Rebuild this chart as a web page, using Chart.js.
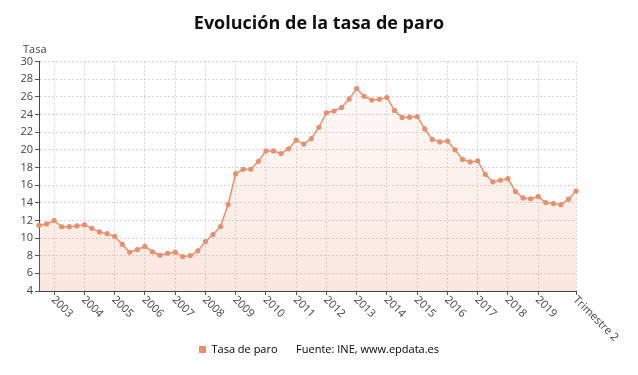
<!DOCTYPE html>
<html>
<head>
<meta charset="utf-8">
<script src="https://cdn.jsdelivr.net/npm/chart.js@4/dist/chart.umd.min.js"></script>
<style>
    html, body { margin: 0; padding: 0; background: #fff; }
    #grafico { width: 638px; height: 375px; }
</style>
</head>
<body>
<div id="grafico">
    <canvas id="myChart"></canvas>
</div>
<script>
    // trimestres (EPA), del T3 2002 al T2 2020
    var categorias = [
        'T3 2002', 'T4 2002',
        'T1 2003', 'T2 2003', 'T3 2003', 'T4 2003',
        'T1 2004', 'T2 2004', 'T3 2004', 'T4 2004',
        'T1 2005', 'T2 2005', 'T3 2005', 'T4 2005',
        'T1 2006', 'T2 2006', 'T3 2006', 'T4 2006',
        'T1 2007', 'T2 2007', 'T3 2007', 'T4 2007',
        'T1 2008', 'T2 2008', 'T3 2008', 'T4 2008',
        'T1 2009', 'T2 2009', 'T3 2009', 'T4 2009',
        'T1 2010', 'T2 2010', 'T3 2010', 'T4 2010',
        'T1 2011', 'T2 2011', 'T3 2011', 'T4 2011',
        'T1 2012', 'T2 2012', 'T3 2012', 'T4 2012',
        'T1 2013', 'T2 2013', 'T3 2013', 'T4 2013',
        'T1 2014', 'T2 2014', 'T3 2014', 'T4 2014',
        'T1 2015', 'T2 2015', 'T3 2015', 'T4 2015',
        'T1 2016', 'T2 2016', 'T3 2016', 'T4 2016',
        'T1 2017', 'T2 2017', 'T3 2017', 'T4 2017',
        'T1 2018', 'T2 2018', 'T3 2018', 'T4 2018',
        'T1 2019', 'T2 2019', 'T3 2019', 'T4 2019',
        'T1 2020', 'T2 2020'
    ];

    var tasaParo = [
        11.45, 11.6,
        11.99, 11.28, 11.29, 11.37,
        11.5, 11.1, 10.7, 10.5,
        10.19, 9.31, 8.39, 8.7,
        9.05, 8.45, 8.05, 8.28,
        8.4, 7.9, 8.01, 8.55,
        9.6, 10.4, 11.3, 13.8,
        17.3, 17.8, 17.8, 18.7,
        19.88, 19.88, 19.58, 20.11,
        21.1, 20.65, 21.26, 22.56,
        24.2, 24.4, 24.8, 25.77,
        26.94, 26.07, 25.65, 25.73,
        25.93, 24.47, 23.67, 23.7,
        23.78, 22.37, 21.18, 20.9,
        21.0, 20.0, 18.91, 18.63,
        18.75, 17.22, 16.38, 16.55,
        16.74, 15.28, 14.55, 14.45,
        14.7, 14.02, 13.92, 13.78,
        14.41, 15.33
    ];

    var ultimaEtiqueta = 'Trimestre 2';
    var titulo = 'Evolución de la tasa de paro';
    var tituloEje = 'Tasa';
    var nombreSerie = 'Tasa de paro';
    var fuente = 'Fuente: INE, www.epdata.es';

    var fuenteLetra = '"Open Sans", "Noto Sans", sans-serif';
    var colorSerie = '#e8906c';
    var colorTexto = '#444';
    var colorRejilla = '#d4d4d4';

    // solo se rotula el primer trimestre de cada año y el último dato
    // (el año del último dato no se rotula, queda pegado a "Trimestre 2")
    function etiqueta(i) {
        var ultimo = categorias.length - 1;
        if (i === ultimo) return ultimaEtiqueta;
        if (i > ultimo - 4) return null;
        var c = categorias[i];
        if (c && c.indexOf('T1') === 0) return c.slice(3);
        return null;
    }

    // etiquetas del eje X inclinadas hacia abajo a la derecha
    var etiquetasX = {
        id: 'etiquetasX',
        afterDraw: function (chart) {
            var x = chart.scales.x;
            var ctx = chart.ctx;
            ctx.save();
            ctx.font = '11px ' + fuenteLetra;
            ctx.fillStyle = colorTexto;
            ctx.textAlign = 'left';
            ctx.textBaseline = 'middle';
            for (var i = 0; i < x.ticks.length; i++) {
                var lab = etiqueta(i);
                if (!lab) continue;
                var px = x.getPixelForTick(i);
                ctx.save();
                ctx.translate(px - 1, x.top + 7);
                ctx.rotate(Math.PI / 4);
                ctx.fillText(lab, 0, 0);
                ctx.restore();
            }
            // titulo del eje Y encima del eje
            var area = chart.chartArea;
            ctx.textAlign = 'left';
            ctx.fillText(tituloEje, area.left - 16, area.top - 11.5);
            ctx.restore();
        }
    };

    var ctx = document.getElementById('myChart').getContext('2d');
    var chart = new Chart(ctx, {
        type: 'line',
        data: {
            labels: categorias,
            datasets: [{
                label: nombreSerie,
                data: tasaParo,
                yAxisID: 'y',
                borderColor: colorSerie,
                borderWidth: 1.5,
                pointRadius: 2.6,
                pointBorderWidth: 0,
                pointBackgroundColor: colorSerie,
                tension: 0,
                fill: 'start',
                backgroundColor: function (c) {
                    var area = c.chart.chartArea;
                    if (!area) return 'rgba(232, 144, 108, 0.12)';
                    var g = c.chart.ctx.createLinearGradient(0, area.top, 0, area.bottom);
                    g.addColorStop(0, 'rgba(232, 144, 108, 0.03)');
                    g.addColorStop(1, 'rgba(232, 144, 108, 0.22)');
                    return g;
                }
            }]
        },
        options: {
            responsive: true,
            maintainAspectRatio: false,
            animation: false,
            layout: { padding: { left: 0, right: 0, top: 0, bottom: 10 } },
            plugins: {
                title: {
                    display: true,
                    text: titulo,
                    color: '#111',
                    font: { family: fuenteLetra, size: 18, weight: 'bold' },
                    padding: { top: 13, bottom: 27 }
                },
                legend: {
                    position: 'bottom',
                    labels: {
                        boxWidth: 7,
                        boxHeight: 7,
                        padding: 6,
                        color: '#333',
                        font: { family: fuenteLetra, size: 11 },
                        generateLabels: function () {
                            return [
                                { text: nombreSerie, fillStyle: colorSerie, strokeStyle: colorSerie, lineWidth: 0, hidden: false, datasetIndex: 0 },
                                { text: fuente, fillStyle: 'rgba(0,0,0,0)', strokeStyle: 'rgba(0,0,0,0)', lineWidth: 0, hidden: false }
                            ];
                        }
                    }
                },
                tooltip: { enabled: false }
            },
            scales: {
                x: {
                    ticks: { display: false, autoSkip: false },
                    grid: {
                        color: function (c) { return etiqueta(c.index) ? colorRejilla : 'rgba(0,0,0,0)'; },
                        tickColor: function (c) { return etiqueta(c.index) ? '#555' : 'rgba(0,0,0,0)'; },
                        tickLength: 4
                    },
                    border: { color: '#444', width: 1, dash: [2, 2] },
                    afterFit: function (s) { s.height = 47; }
                },
                y: {
                    min: 4,
                    max: 30,
                    ticks: {
                        stepSize: 2,
                        color: colorTexto,
                        padding: 2,
                        font: { family: fuenteLetra, size: 11 }
                    },
                    grid: { color: colorRejilla, tickColor: '#555', tickLength: 4 },
                    border: { color: '#444', width: 1, dash: [2, 2] },
                    afterFit: function (s) { s.width = 39; }
                },
                derecha: {
                    type: 'linear',
                    position: 'right',
                    grid: { display: false },
                    border: { display: false },
                    ticks: { display: false },
                    afterFit: function (s) { s.width = 62; }
                }
            }
        },
        plugins: [etiquetasX]
    });
</script>
</body>
</html>
